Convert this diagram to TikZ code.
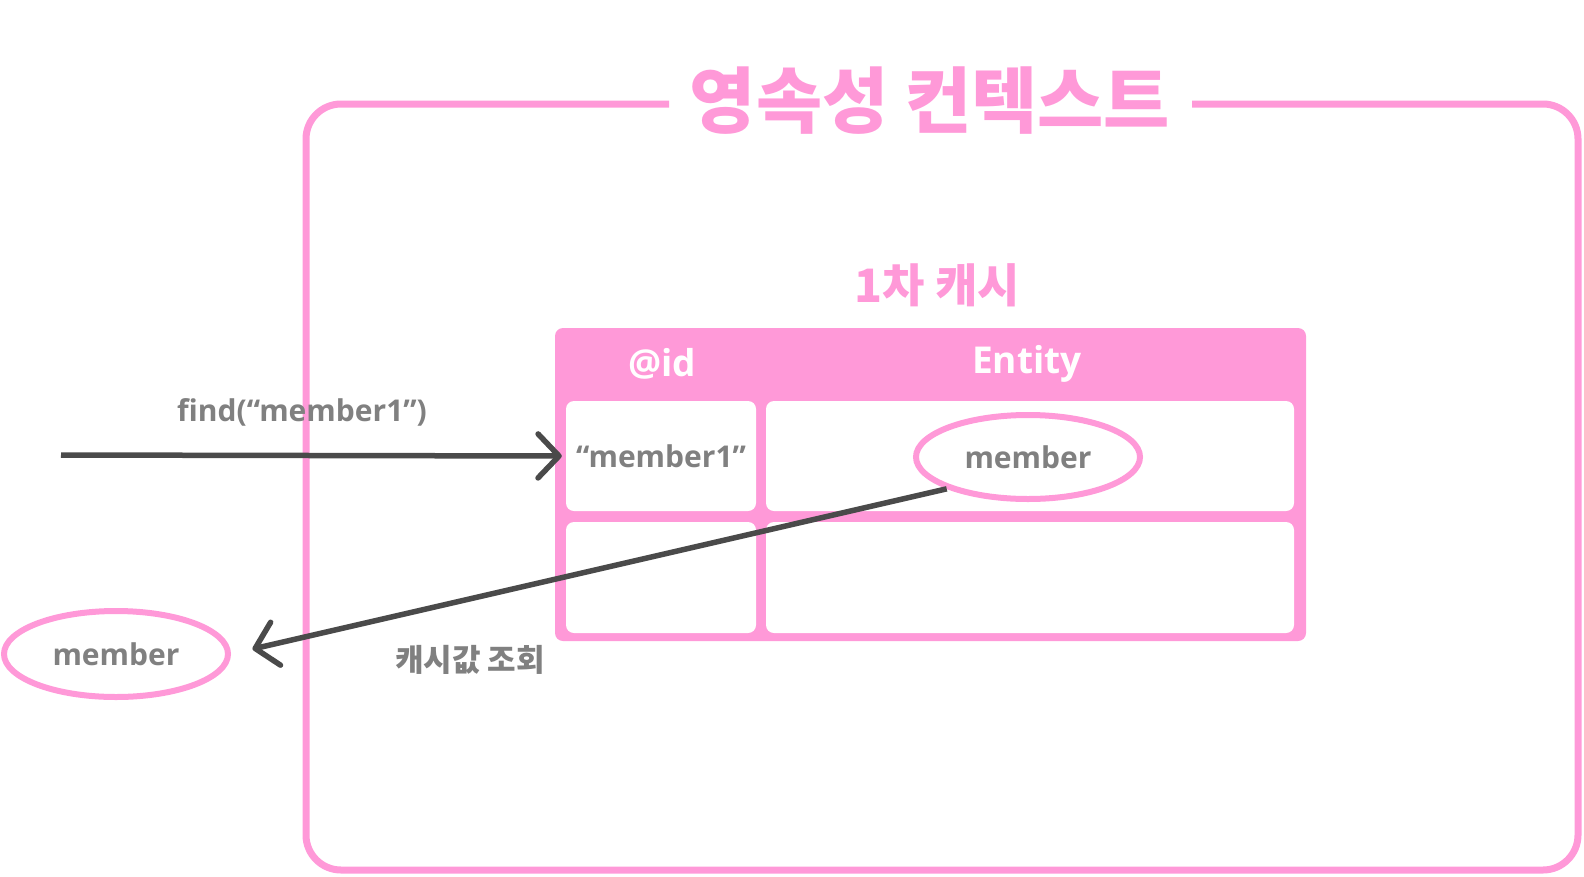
\documentclass[tikz,border=0pt]{standalone}
\usepackage{fontspec}
\setmainfont{Open Sans}
\newfontfamily\kr{Noto Sans CJK KR}
\usetikzlibrary{shapes.geometric,arrows.meta}
\definecolor{pinkc}{HTML}{FF99D8}
\definecolor{txtgray}{HTML}{808080}
\definecolor{arrgray}{HTML}{4A4A4A}
\tikzset{
  frame/.style={draw=pinkc,line width=7pt,rounded corners=35pt},
  cellbox/.style={fill=white,rounded corners=8pt,inner sep=0pt},
  oval/.style={ellipse,draw=pinkc,line width=6pt,fill=white,inner sep=0pt,text=txtgray,font=\bfseries\fontsize{30}{36}\selectfont},
  celltext/.style={text=txtgray,font=\bfseries\fontsize{30}{36}\selectfont},
  headtext/.style={text=white,font=\bfseries\fontsize{37}{44}\selectfont},
  lbl/.style={text=txtgray},
  flow/.style={draw=arrgray,line width=5.5pt,-{Straight Barb[length=21pt,width=44pt,round]}}
}
\begin{document}
\begin{tikzpicture}[x=1pt,y=-1pt]
\useasboundingbox (0,0) rectangle (1584,876);
% outer frame
\draw[frame] (669,104) -- (306,104) -- (306,870) -- (1578,870) -- (1578,104) -- (1192,104);
\node[text=pinkc,font=\kr\bfseries\fontsize{72}{80}\selectfont] (title) at (930,101) {영속성 컨텍스트};
\node[text=pinkc,font=\kr\bfseries\fontsize{46}{52}\selectfont] (cachetitle) at (937,285) {1차 캐시};
% table
\node[fill=pinkc,rounded corners=8pt,minimum width=751pt,minimum height=313pt,inner sep=0pt] (table) at (930.5,484.5) {};
\node[headtext] (hid) at (662,364) {@id};
\node[headtext] (hent) at (1027,364) {Entity};
\node[cellbox,minimum width=190pt,minimum height=110pt] (c11) at (661,456) {};
\node[cellbox,minimum width=528pt,minimum height=110pt] (c12) at (1030,456) {};
\node[cellbox,minimum width=190pt,minimum height=111pt] (c21) at (661,577.5) {};
\node[cellbox,minimum width=528pt,minimum height=111pt] (c22) at (1030,577.5) {};
\node[celltext] (key) at (661,456) {“member1”};
\node[oval,minimum width=224pt,minimum height=84pt] (mem1) at (1028,457) {member};
% left
\node[oval,minimum width=224pt,minimum height=86pt] (mem0) at (116,654) {member};
\coordinate (src) at (61,455);
\draw[flow,shorten >=4pt] (src) -- (c11.west);
\node[lbl,font=\bfseries\fontsize{30}{36}\selectfont] (findlbl) at (302,412) {find(“member1”)};
\draw[flow,shorten >=22pt] (mem1.south west) -- (mem0.east);
\node[lbl,font=\kr\bfseries\fontsize{31}{36}\selectfont] (retlbl) at (470,660) {캐시값 조회};
\end{tikzpicture}
\end{document}
